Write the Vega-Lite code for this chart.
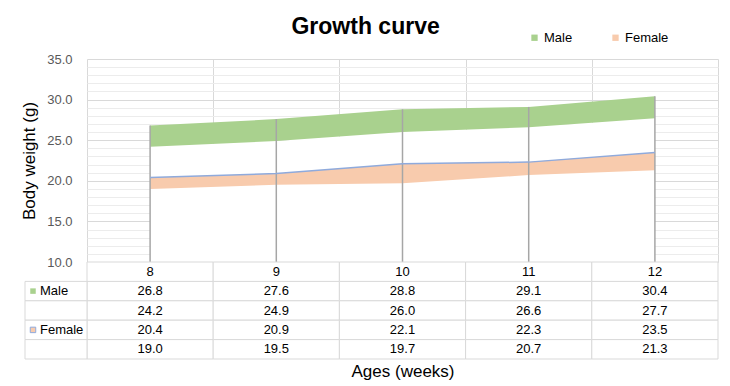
{
  "$schema": "https://vega.github.io/schema/vega-lite/v6.json",
  "background": "white",
  "padding": {"left": 20, "top": 16, "right": 5, "bottom": 5},
  "config": {"font": "Liberation Sans", "view": {"stroke": null}},
  "title": {"text": "Growth curve", "fontSize": 23, "fontWeight": "bold", "color": "#000000", "anchor": "middle", "offset": -8, "dx": -4, "font": "Liberation Sans"},
  "datasets": {
    "weights": [
      {"age": 8, "series": "Male upper", "weight": 26.8},
      {"age": 9, "series": "Male upper", "weight": 27.6},
      {"age": 10, "series": "Male upper", "weight": 28.8},
      {"age": 11, "series": "Male upper", "weight": 29.1},
      {"age": 12, "series": "Male upper", "weight": 30.4},
      {"age": 8, "series": "Male lower", "weight": 24.2},
      {"age": 9, "series": "Male lower", "weight": 24.9},
      {"age": 10, "series": "Male lower", "weight": 26.0},
      {"age": 11, "series": "Male lower", "weight": 26.6},
      {"age": 12, "series": "Male lower", "weight": 27.7},
      {"age": 8, "series": "Female upper", "weight": 20.4},
      {"age": 9, "series": "Female upper", "weight": 20.9},
      {"age": 10, "series": "Female upper", "weight": 22.1},
      {"age": 11, "series": "Female upper", "weight": 22.3},
      {"age": 12, "series": "Female upper", "weight": 23.5},
      {"age": 8, "series": "Female lower", "weight": 19.0},
      {"age": 9, "series": "Female lower", "weight": 19.5},
      {"age": 10, "series": "Female lower", "weight": 19.7},
      {"age": 11, "series": "Female lower", "weight": 20.7},
      {"age": 12, "series": "Female lower", "weight": 21.3}
    ],
    "rowlabels": [
      {"series": "Male upper", "label": "Male", "sex": "Male"},
      {"series": "Male lower", "label": "", "sex": ""},
      {"series": "Female upper", "label": "Female", "sex": "Female"},
      {"series": "Female lower", "label": "", "sex": ""}
    ]
  },
  "spacing": 0,
  "bounds": "flush",
  "vconcat": [
    {
      "width": 631,
      "height": 203,
      "data": {"name": "weights"},
      "transform": [{"pivot": "series", "value": "weight", "groupby": ["age"]}],
      "encoding": {
        "x": {
          "field": "age", "type": "ordinal", "bandPosition": 0.5,
          "scale": {"type": "band", "paddingInner": 0, "paddingOuter": 0},
          "axis": {"title": null, "labels": false, "ticks": false, "domain": false, "grid": true, "tickBand": "extent", "gridColor": "#d9d9d9", "gridWidth": 1}
        }
      },
      "layer": [
        {
          "layer": [
            {
              "mark": {"type": "area", "fill": "white", "stroke": null},
              "encoding": {
                "y": {
                  "field": "Male lower", "type": "quantitative",
                  "scale": {"domain": [10, 35], "zero": false, "nice": false},
                  "axis": {"orient": "right", "title": null, "values": [11, 12, 13, 14, 16, 17, 18, 19, 21, 22, 23, 24, 26, 27, 28, 29, 31, 32, 33, 34], "grid": true, "gridColor": "#ececec", "gridWidth": 1, "labels": false, "ticks": false, "domain": false}
                },
                "y2": {"datum": 10}
              }
            }
          ]
        },
        {
          "layer": [
            {
              "mark": {"type": "area", "stroke": null},
              "encoding": {
                "y": {
                  "field": "Male upper", "type": "quantitative", "title": "Body weight (g)",
                  "scale": {"domain": [10, 35], "zero": false, "nice": false},
                  "axis": {"orient": "left", "values": [10, 15, 20, 25, 30, 35], "format": ".1f", "grid": true, "gridColor": "#d9d9d9", "gridWidth": 1, "ticks": false, "tickSize": 0, "domain": false, "labelPadding": 15, "labelFontSize": 13, "labelColor": "#595959", "labelFont": "Liberation Sans", "titleFontSize": 17, "titleFontWeight": "normal", "titleColor": "#000000", "titleFont": "Liberation Sans", "titlePadding": 8}
                },
                "y2": {"field": "Male lower"},
                "fill": {
                  "datum": "Male", "type": "nominal",
                  "scale": {"domain": ["Male", "Female"], "range": ["#a9d18e", "#f8cbad"]},
                  "legend": {
                    "orient": "none", "legendX": 441, "legendY": -28, "direction": "horizontal", "title": null,
                    "symbolType": "square", "symbolSize": 40, "labelFontSize": 13, "labelColor": "#000000", "labelFont": "Liberation Sans",
                    "columnPadding": 36, "labelOffset": 3,
                    "encode": {"symbols": {"stroke": {"condition": {"test": "datum.value === 'Female'", "value": "#8faadc"}, "value": "transparent"}, "strokeWidth": {"value": 1.5}}}
                  }
                }
              }
            },
            {
              "mark": {"type": "area", "stroke": null},
              "encoding": {
                "y": {"field": "Female upper", "type": "quantitative", "title": "Body weight (g)"},
                "y2": {"field": "Female lower"},
                "fill": {"datum": "Female", "type": "nominal"}
              }
            },
            {
              "mark": {"type": "rule", "color": "#a6a6a6", "strokeWidth": 1.5},
              "encoding": {
                "y": {"field": "Male upper", "type": "quantitative", "title": "Body weight (g)"},
                "y2": {"datum": 10}
              }
            },
            {
              "mark": {"type": "line", "color": "#8faadc", "strokeWidth": 1.5},
              "encoding": {
                "y": {"field": "Female upper", "type": "quantitative", "title": "Body weight (g)"}
              }
            }
          ]
        }
      ],
      "resolve": {"axis": {"y": "independent"}}
    },
    {
      "width": 631,
      "height": 97,
      "layer": [
        {
          "data": {"name": "weights"},
          "encoding": {
            "x": {
              "field": "age", "type": "ordinal",
              "scale": {"type": "band", "paddingInner": 0, "paddingOuter": 0},
              "axis": {"title": "Ages (weeks)", "labels": false, "ticks": false, "domain": false, "grid": false, "titleFontSize": 17, "titleFontWeight": "normal", "titleColor": "#000000", "titleFont": "Liberation Sans", "titlePadding": 4}
            },
            "y": {
              "field": "series", "type": "nominal",
              "scale": {"domain": ["Weeks", "Male upper", "Male lower", "Female upper", "Female lower"], "paddingInner": 0, "paddingOuter": 0},
              "axis": null
            }
          },
          "layer": [
            {"mark": {"type": "rect", "fill": "white", "stroke": "#d9d9d9", "strokeWidth": 1}},
            {
              "transform": [{"filter": "datum.series === 'Male upper'"}],
              "mark": {"type": "rect", "fill": "white", "stroke": "#d9d9d9", "strokeWidth": 1},
              "encoding": {"y": {"datum": "Weeks", "type": "nominal"}}
            },
            {
              "mark": {"type": "text", "fontSize": 13, "color": "#000000", "font": "Liberation Sans"},
              "encoding": {"text": {"field": "weight", "type": "quantitative", "format": ".1f"}}
            },
            {
              "transform": [{"filter": "datum.series === 'Male upper'"}],
              "mark": {"type": "text", "fontSize": 13, "fill": "#000000", "color": "#000000", "font": "Liberation Sans"},
              "encoding": {"y": {"datum": "Weeks", "type": "nominal"}, "text": {"field": "age", "type": "ordinal"}}
            }
          ]
        },
        {
          "data": {"name": "rowlabels"},
          "encoding": {
            "x": {"datum": "lbl", "type": "nominal", "scale": {"type": "band", "range": [-62, 0], "paddingInner": 0, "paddingOuter": 0}, "axis": null},
            "y": {"field": "series", "type": "nominal", "scale": {"domain": ["Weeks", "Male upper", "Male lower", "Female upper", "Female lower"], "paddingInner": 0, "paddingOuter": 0}, "axis": null}
          },
          "layer": [
            {"mark": {"type": "rect", "fill": "white", "stroke": "#d9d9d9", "strokeWidth": 1}},
            {
              "transform": [{"filter": "datum.label !== ''"}],
              "mark": {"type": "square", "size": 30, "xOffset": -23, "opacity": 1, "strokeWidth": 1},
              "encoding": {
                "fill": {"condition": {"test": "datum.sex === 'Male'", "value": "#a9d18e"}, "value": "#f8cbad"},
                "stroke": {"condition": {"test": "datum.sex === 'Female'", "value": "#8faadc"}, "value": "transparent"}
              }
            },
            {
              "transform": [{"filter": "datum.label !== ''"}],
              "mark": {"type": "text", "align": "left", "dx": -16, "fontSize": 13, "color": "#000000", "font": "Liberation Sans"},
              "encoding": {"text": {"field": "label", "type": "nominal"}}
            }
          ]
        }
      ],
      "resolve": {"scale": {"x": "independent"}, "axis": {"x": "independent"}}
    }
  ]
}
